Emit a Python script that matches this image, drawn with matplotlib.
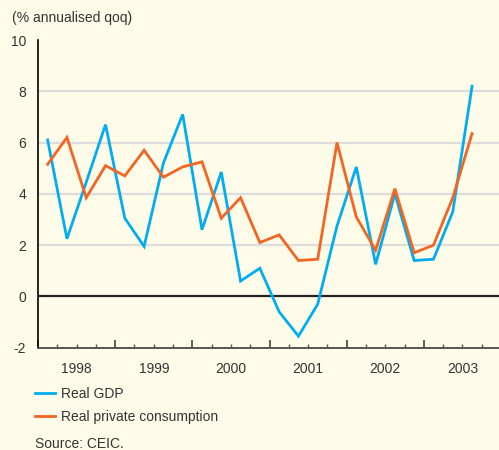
import matplotlib
matplotlib.use("Agg")
import matplotlib.pyplot as plt

plt.rcParams['font.family'] = ['Liberation Sans', 'DejaVu Sans']

# quarterly data, 1998Q1 .. 2003Q3
gdp = [6.1, 2.25, 4.45, 6.7, 3.05, 1.95, 5.2, 7.1, 2.6, 4.85, 0.6, 1.1,
       -0.6, -1.55, -0.3, 2.75, 5.05, 1.25, 4.0, 1.4, 1.45, 3.3, 8.2]
consumption = [5.15, 6.2, 3.85, 5.1, 4.7, 5.7, 4.65, 5.05, 5.25, 3.05, 3.85, 2.1,
               2.4, 1.4, 1.45, 6.0, 3.1, 1.8, 4.2, 1.7, 2.0, 3.85, 6.35]
years = ['1998', '1999', '2000', '2001', '2002', '2003']

bg = '#fefbe9'
blue = '#00aeef'
orange = '#f26522'
txt = '#333333'

fig = plt.figure(figsize=(4.99, 4.5), dpi=100, facecolor=bg)
ax = fig.add_axes([38/499, 1 - 347.7/450, 463/499, (347.7 - 40)/450])
ax.set_facecolor(bg)

x = [i + 0.5 for i in range(len(gdp))]

# grid + zero line
for v in [2, 4, 6, 8]:
    ax.axhline(v, color='#dcdcdc', lw=1.6, zorder=1)
ax.axhline(0, color='#222222', lw=1.6, zorder=3)

l1, = ax.plot(x, gdp, color=blue, lw=2.0, zorder=4, label='Real GDP',
              solid_joinstyle='miter')
l2, = ax.plot(x, consumption, color=orange, lw=2.0, zorder=4,
              label='Real private consumption', solid_joinstyle='miter')

ax.set_xlim(0, 24)
ax.set_ylim(-2, 10)

ax.set_yticks(range(-2, 11, 2))
ax.set_yticklabels([str(v) for v in range(-2, 11, 2)], color=txt, fontsize=10)
ax.tick_params(axis='y', length=0, pad=8.5)

ax.set_xticks(range(0, 25, 4))
ax.set_xticklabels([])
ax.set_xticks(range(0, 25), minor=True)
ax.tick_params(axis='x', which='major', direction='in', length=6, width=1.2,
               color='#444444')
ax.tick_params(axis='x', which='minor', direction='in', length=3, width=1.0,
               color='#555555')
for i, yr in enumerate(years):
    ax.text(4 * i + 2, -0.045, yr, transform=ax.get_xaxis_transform(),
            ha='center', va='top', fontsize=10, color=txt)

for s in ['top', 'right']:
    ax.spines[s].set_visible(False)
ax.spines['left'].set_color('black')
ax.spines['left'].set_linewidth(1.2)
ax.spines['bottom'].set_color('#555555')
ax.spines['bottom'].set_linewidth(1.4)

fig.text(12/499, 1 - 18/450, '(% annualised qoq)', fontsize=10, color=txt,
         ha='left', va='center')

fig.legend(handles=[l1, l2], loc='upper left',
           bbox_to_anchor=(35/499, 1 - 387/450), frameon=False,
           fontsize=10, handlelength=1.45, handletextpad=0.45,
           labelspacing=0.62, borderaxespad=0, borderpad=0,
           labelcolor=txt)

fig.text(35/499, 1 - 444/450, 'Source: CEIC.', fontsize=10, color=txt,
         ha='left', va='center')

fig.savefig('out.png', dpi=100, facecolor=bg)
